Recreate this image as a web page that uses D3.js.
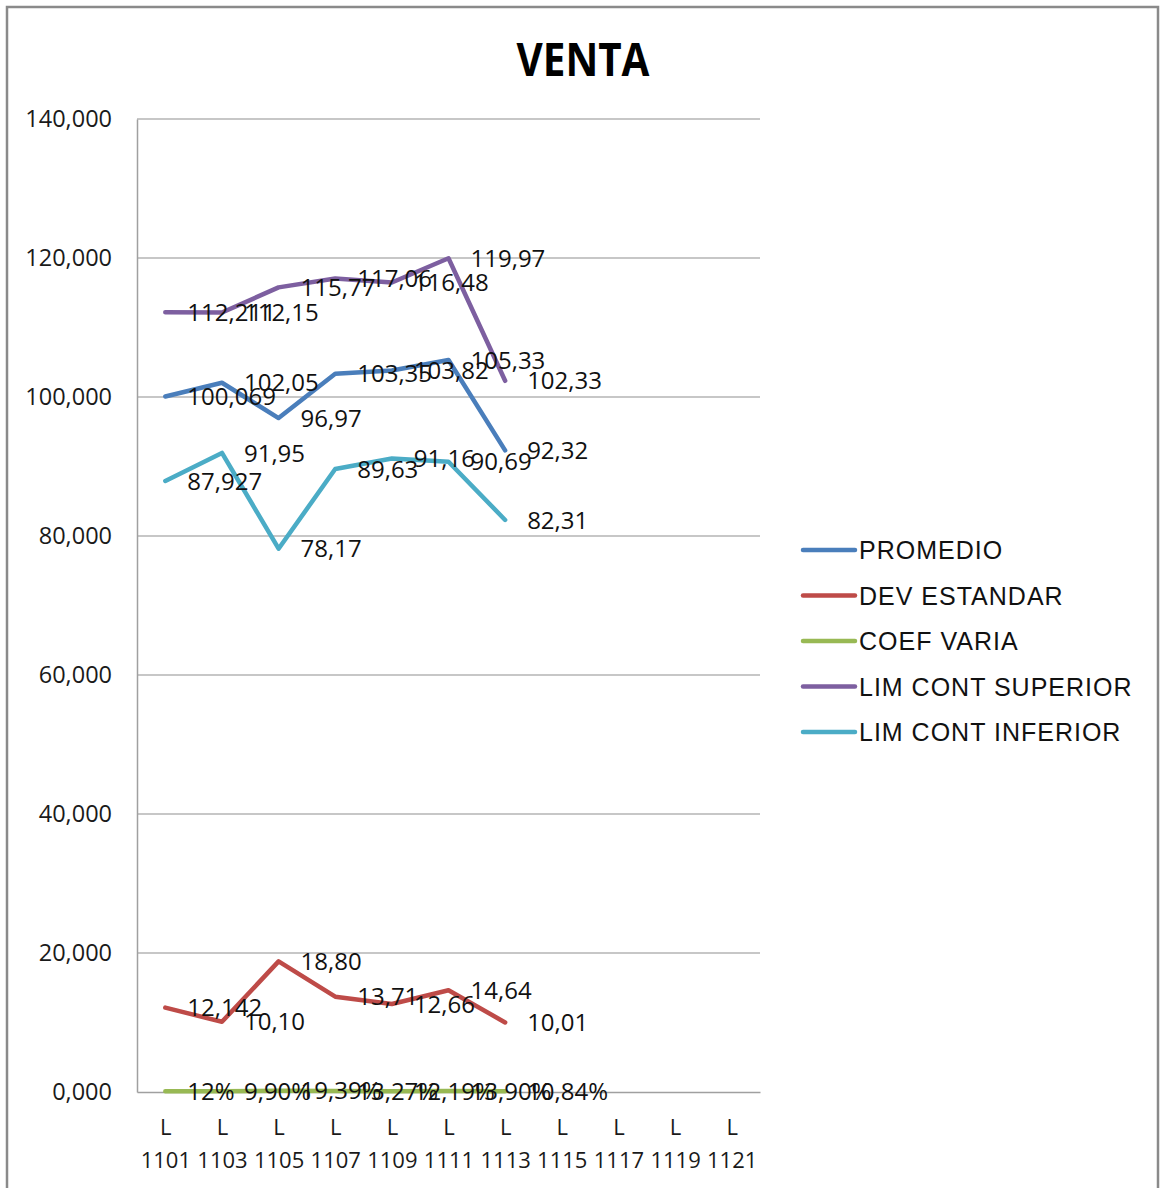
<!DOCTYPE html>
<html>
<head>
<meta charset="utf-8">
<script src="https://cdn.jsdelivr.net/npm/d3@7"></script>
<style>
  html, body { margin: 0; padding: 0; background: #fff; }
  svg { display: block; }
</style>
</head>
<body>
<svg id="chart" width="1160" height="1188"></svg>
<script>
// Control chart for VENTA: mean, std deviation, coefficient of variation and control limits per lot
const categories = ["L 1101", "L 1103", "L 1105", "L 1107", "L 1109", "L 1111", "L 1113",
                    "L 1115", "L 1117", "L 1119", "L 1121"];

const promedio    = [100.069, 102.05, 96.97, 103.35, 103.82, 105.33, 92.32];
const devEstandar = [12.142, 10.10, 18.80, 13.71, 12.66, 14.64, 10.01];
const coefVaria   = [0.12, 0.0990, 0.1939, 0.1327, 0.1219, 0.1390, 0.1084];
const limSuperior = [112.211, 112.15, 115.77, 117.06, 116.48, 119.97, 102.33];
const limInferior = [87.927, 91.95, 78.17, 89.63, 91.16, 90.69, 82.31];

const yTicks = [0, 20, 40, 60, 80, 100, 120, 140];

const seriesNames  = ["PROMEDIO", "DEV ESTANDAR", "COEF VARIA", "LIM CONT SUPERIOR", "LIM CONT INFERIOR"];
const seriesColors = ["#4a7ebb", "#be4b48", "#98b954", "#7d5fa0", "#4bacc6"];
// decimals shown by each label (first lot carries extra precision in the source sheet)
const numDigits = [3, 2, 2, 2, 2, 2, 2];
const pctDigits = [0, 2, 2, 2, 2, 2, 2];

const fmtNum = (v, d) => v.toFixed(d).replace(".", ",");
const fmtPct = (v, d) => (v * 100).toFixed(d).replace(".", ",") + "%";

const series = [
  { name: seriesNames[0], color: seriesColors[0], values: promedio,    label: (v, i) => fmtNum(v, numDigits[i]) },
  { name: seriesNames[1], color: seriesColors[1], values: devEstandar, label: (v, i) => fmtNum(v, numDigits[i]) },
  { name: seriesNames[2], color: seriesColors[2], values: coefVaria,   label: (v, i) => fmtPct(v, pctDigits[i]) },
  { name: seriesNames[3], color: seriesColors[3], values: limSuperior, label: (v, i) => fmtNum(v, numDigits[i]) },
  { name: seriesNames[4], color: seriesColors[4], values: limInferior, label: (v, i) => fmtNum(v, numDigits[i]) }
];

const svg = d3.select("#chart");
const plot = { left: 137, right: 760, top: 119, bottom: 1092 };

// outer chart frame
svg.append("rect")
  .attr("x", 7).attr("y", 7)
  .attr("width", 1151).attr("height", 1200)
  .attr("fill", "#fff")
  .attr("stroke", "#8a8a8a").attr("stroke-width", 2.5);

// title
svg.append("text")
  .attr("x", 583).attr("y", 76)
  .attr("text-anchor", "middle")
  .attr("font-family", "'Liberation Sans Narrow', 'Open Sans', sans-serif")
  .attr("font-weight", "bold")
  .attr("font-size", 46)
  .attr("textLength", 133)
  .attr("lengthAdjust", "spacingAndGlyphs")
  .attr("fill", "#000")
  .text("VENTA");

const x = d3.scalePoint()
  .domain(categories)
  .range([plot.left, plot.right])
  .padding(0.5);

const y = d3.scaleLinear()
  .domain([0, 140])
  .range([plot.bottom, plot.top]);

// horizontal gridlines
svg.append("g")
  .selectAll("line")
  .data(yTicks.filter(t => t > 0))
  .join("line")
  .attr("x1", plot.left).attr("x2", plot.right)
  .attr("y1", d => y(d)).attr("y2", d => y(d))
  .attr("stroke", "#b4b4b4").attr("stroke-width", 1.5);

// y axis
const yAxis = svg.append("g")
  .attr("transform", `translate(${plot.left},0)`)
  .call(d3.axisLeft(y).tickValues(yTicks).tickSize(0).tickPadding(25)
    .tickFormat(d => d3.format(".3f")(d).replace(".", ",")));
yAxis.select(".domain").attr("stroke", "#a0a0a0").attr("stroke-width", 1.5);
yAxis.selectAll("text")
  .attr("font-family", "'Open Sans', sans-serif")
  .attr("font-size", 23.5)
  .attr("fill", "#1a1a1a");

// x axis with two-line category labels
const xAxis = svg.append("g")
  .attr("transform", `translate(0,${plot.bottom})`)
  .call(d3.axisBottom(x).tickSize(0).tickFormat(""));
xAxis.select(".domain").attr("stroke", "#a0a0a0").attr("stroke-width", 1.5);
xAxis.selectAll(".tick").each(function(d) {
  const parts = d.split(" ");
  const t = d3.select(this).append("text")
    .attr("text-anchor", "middle")
    .attr("font-family", "'Open Sans', sans-serif")
    .attr("font-size", 22)
    .attr("fill", "#1a1a1a");
  t.append("tspan").attr("x", 0).attr("y", 43).text(parts[0]);
  t.append("tspan").attr("x", 0).attr("y", 76).text(parts[1]);
});

// series lines
const line = d3.line()
  .x((d, i) => x(categories[i]))
  .y(d => y(d));

svg.append("g")
  .selectAll("path")
  .data(series)
  .join("path")
  .attr("d", s => line(s.values))
  .attr("fill", "none")
  .attr("stroke", s => s.color)
  .attr("stroke-width", 4.5)
  .attr("stroke-linejoin", "round")
  .attr("stroke-linecap", "round");

// data labels to the right of each point
const labelLayer = svg.append("g")
  .attr("font-family", "'Open Sans', sans-serif")
  .attr("font-size", 24)
  .attr("fill", "#111");

series.forEach(s => {
  labelLayer.append("g")
    .selectAll("text")
    .data(s.values)
    .join("text")
    .attr("x", (d, i) => x(categories[i]) + 22)
    .attr("y", d => y(d))
    .attr("dy", "0.36em")
    .text((d, i) => s.label(d, i));
});

// legend
const legend = svg.append("g")
  .attr("transform", "translate(803,550)");
const item = legend.selectAll("g")
  .data(series)
  .join("g")
  .attr("transform", (d, i) => `translate(0,${i * 45.5})`);
item.append("line")
  .attr("x1", 0).attr("x2", 52)
  .attr("stroke", d => d.color)
  .attr("stroke-width", 4.5)
  .attr("stroke-linecap", "round");
item.append("text")
  .attr("x", 56)
  .attr("dy", "0.36em")
  .attr("font-family", "'Liberation Sans', Arial, sans-serif")
  .attr("font-size", 25)
  .attr("letter-spacing", 1)
  .attr("fill", "#111")
  .text(d => d.name);
</script>
</body>
</html>
